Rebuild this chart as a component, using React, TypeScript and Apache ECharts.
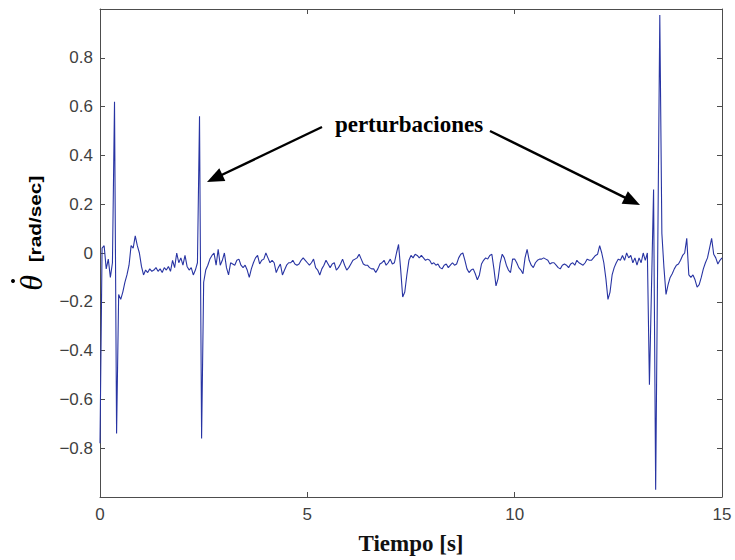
import React, { useEffect, useRef } from "react";
import * as echarts from "echarts";

// Sampling step of the recorded signal (seconds)
const SAMPLE_DT = 0.05;

// Angular velocity samples [rad/sec], one per SAMPLE_DT, t = 0 .. 15 s
const thetaDot: number[] = [
  // 0.00 - 0.95
  -0.78, 0.02, 0.03, -0.065, -0.025, -0.1, -0.04, 0.62, -0.74, -0.17,
  -0.19, -0.16, -0.12, -0.09, -0.05, 0.03, 0.02, 0.07, 0.03, 0.0,
  // 1.00 - 1.95
  -0.055, -0.09, -0.07, -0.08, -0.065, -0.075, -0.07, -0.06, -0.075, -0.065,
  -0.08, -0.06, -0.07, -0.055, -0.075, -0.03, -0.06, 0.0, -0.04, -0.02,
  // 2.00 - 2.95
  -0.05, -0.01, -0.055, -0.07, -0.06, -0.09, -0.07, -0.04, 0.56, -0.76,
  -0.12, -0.07, -0.05, -0.025, -0.01, 0.0, -0.05, 0.015, -0.05, -0.03,
  // 3.00 - 3.95
  0.0, -0.06, -0.09, -0.04, -0.045, -0.05, -0.03, -0.025, -0.05, -0.06,
  -0.05, -0.07, -0.1, -0.065, -0.04, -0.02, -0.01, -0.045, -0.03, -0.025,
  // 4.00 - 4.95
  0.0, -0.02, -0.04, -0.03, -0.04, -0.08, -0.06, -0.045, -0.09, -0.07,
  -0.05, -0.04, -0.04, -0.03, -0.045, -0.05, -0.045, -0.03, -0.02, -0.03,
  // 5.00 - 5.95
  -0.04, -0.05, -0.04, -0.025, -0.06, -0.07, -0.09, -0.065, -0.05, -0.03,
  -0.045, -0.06, -0.045, -0.04, -0.07, -0.06, -0.045, -0.025, -0.05, -0.07,
  // 6.00 - 6.95
  -0.06, -0.045, -0.03, -0.025, -0.02, -0.005, -0.025, -0.045, -0.05, -0.05,
  -0.06, -0.065, -0.065, -0.08, -0.065, -0.045, -0.04, -0.03, -0.05, -0.04,
  // 7.00 - 7.95
  -0.025, -0.045, -0.04, 0.0, 0.035, -0.065, -0.18, -0.16, -0.09, -0.03,
  -0.01, -0.02, -0.005, -0.01, -0.02, -0.01, -0.02, -0.03, -0.025, -0.03,
  // 8.00 - 8.95
  -0.045, -0.04, -0.05, -0.045, -0.06, -0.065, -0.05, -0.045, -0.06, -0.05,
  -0.04, -0.05, -0.045, -0.02, -0.005, 0.0, -0.03, -0.065, -0.08, -0.07,
  // 9.00 - 9.95
  -0.065, -0.085, -0.11, -0.09, -0.045, -0.03, -0.02, -0.025, -0.01, -0.005,
  -0.065, -0.135, -0.105, -0.04, -0.005, -0.02, -0.05, -0.07, -0.08, -0.025,
  // 10.00 - 10.95
  -0.025, -0.04, -0.06, -0.07, -0.085, -0.02, 0.015, -0.03, -0.05, -0.06,
  -0.04, -0.03, -0.025, -0.025, -0.02, -0.025, -0.03, -0.045, -0.04, -0.04,
  // 11.00 - 11.95
  -0.05, -0.06, -0.065, -0.05, -0.045, -0.05, -0.06, -0.045, -0.04, -0.05,
  -0.03, -0.04, -0.045, -0.05, -0.04, -0.025, -0.03, -0.03, -0.02, -0.01,
  // 12.00 - 12.95
  -0.005, 0.03, 0.0, -0.04, -0.105, -0.19, -0.16, -0.09, -0.06, -0.04,
  -0.025, -0.03, -0.01, -0.03, 0.0, -0.02, -0.01, -0.04, -0.02, -0.05,
  // 13.00 - 13.95
  -0.02, -0.04, 0.0, -0.03, 0.0, -0.54, -0.14, 0.26, -0.97, 0.0,
  0.975, 0.08, -0.06, -0.17, -0.13, -0.1, -0.085, -0.065, -0.05, -0.045,
  // 14.00 - 14.95
  -0.03, -0.01, 0.0, 0.06, -0.09, -0.1, -0.09, -0.11, -0.14, -0.13,
  -0.1, -0.065, -0.04, -0.02, 0.02, 0.06, -0.005, -0.02, -0.045, -0.03,
  // 15.00
  -0.02,
];

const xTicks = { min: 0, max: 15, interval: 5 };
const yTicks = { min: -1, max: 1, interval: 0.2 };

const xTitle = "Tiempo [s]";
const yTitleSymbol = "\u03B8";
const yTitleUnit = "[rad/sec]";
const annotationText = "perturbaciones";

function arrow(x1: number, y1: number, x2: number, y2: number, len: number, half: number) {
  const dx = x2 - x1;
  const dy = y2 - y1;
  const d = Math.hypot(dx, dy);
  const ux = dx / d;
  const uy = dy / d;
  const bx = x2 - ux * len;
  const by = y2 - uy * len;
  const px = -uy;
  const py = ux;
  return [
    {
      type: "line",
      shape: { x1, y1, x2: bx + ux * 2, y2: by + uy * 2 },
      style: { stroke: "#000", lineWidth: 2.4 },
      silent: true,
    },
    {
      type: "polygon",
      shape: {
        points: [
          [x2, y2],
          [bx + px * half, by + py * half],
          [bx - px * half, by - py * half],
        ],
      },
      style: { fill: "#000" },
      silent: true,
    },
  ];
}

export default function App() {
  const ref = useRef<HTMLDivElement>(null);

  useEffect(() => {
    if (!ref.current) return;
    const chart = echarts.init(ref.current, undefined, { renderer: "svg" });

    const data = thetaDot.map((v, i) => [Number((i * SAMPLE_DT).toFixed(2)), v]);

    const axisColor = "#4d4d4d";
    const labelFont = "Liberation Sans, Arial, sans-serif";
    const fmtY = (v: number) => {
      if (Math.abs(v) < 1e-9) return "0";
      const s = v.toFixed(1);
      return s.replace("-", "\u2212");
    };

    const option: any = {
      animation: false,
      backgroundColor: "#ffffff",
      grid: { left: 100, right: 13, top: 9, bottom: 61, containLabel: false },
      xAxis: [
        {
          type: "value",
          position: "bottom",
          ...xTicks,
          axisLine: { show: true, onZero: false, lineStyle: { color: axisColor, width: 1 } },
          axisTick: { show: true, inside: true, length: 5, lineStyle: { color: axisColor } },
          axisLabel: { color: "#3f3f3f", fontSize: 17, fontFamily: labelFont, margin: 9 },
          splitLine: { show: false },
          name: xTitle,
          nameLocation: "middle",
          nameGap: 35,
          nameTextStyle: {
            fontFamily: "Liberation Serif, Times New Roman, serif",
            fontWeight: "bold",
            fontSize: 23,
            color: "#111",
          },
        },
        {
          type: "value",
          position: "top",
          ...xTicks,
          axisLine: { show: true, onZero: false, lineStyle: { color: axisColor, width: 1 } },
          axisTick: { show: true, inside: true, length: 5, lineStyle: { color: axisColor } },
          axisLabel: { show: false },
          splitLine: { show: false },
        },
      ],
      yAxis: [
        {
          type: "value",
          position: "left",
          ...yTicks,
          axisLine: { show: true, onZero: false, lineStyle: { color: axisColor, width: 1 } },
          axisTick: { show: true, inside: true, length: 5, lineStyle: { color: axisColor } },
          axisLabel: {
            color: "#3f3f3f",
            fontSize: 17,
            fontFamily: labelFont,
            margin: 7,
            showMinLabel: false,
            showMaxLabel: false,
            formatter: fmtY,
          },
          splitLine: { show: false },
        },
        {
          type: "value",
          position: "right",
          ...yTicks,
          axisLine: { show: true, onZero: false, lineStyle: { color: axisColor, width: 1 } },
          axisTick: { show: true, inside: true, length: 5, lineStyle: { color: axisColor } },
          axisLabel: { show: false },
          splitLine: { show: false },
        },
      ],
      series: [
        {
          type: "line",
          xAxisIndex: 0,
          yAxisIndex: 0,
          data,
          showSymbol: false,
          symbol: "none",
          lineStyle: { color: "#2834a3", width: 1.1 },
          silent: true,
        },
      ],
      graphic: [
        ...arrow(322, 127, 207, 182, 17, 7),
        ...arrow(490, 131, 640, 205, 17, 7),
        {
          type: "text",
          x: 409,
          y: 124,
          style: {
            text: annotationText,
            fill: "#000",
            font: "bold 23px 'Liberation Serif', 'Times New Roman', serif",
            textAlign: "center",
            textVerticalAlign: "middle",
          },
          silent: true,
        },
        {
          type: "text",
          x: 35,
          y: 219,
          rotation: Math.PI / 2,
          scaleX: 1.3,
          style: {
            text: yTitleUnit,
            fill: "#000",
            font: "bold 16px 'Liberation Sans', Arial, sans-serif",
            textAlign: "center",
            textVerticalAlign: "middle",
          },
          silent: true,
        },
        {
          type: "text",
          x: 31,
          y: 283,
          rotation: Math.PI / 2,
          style: {
            text: yTitleSymbol,
            fill: "#000",
            font: "italic 32px 'Liberation Serif', 'Times New Roman', serif",
            textAlign: "center",
            textVerticalAlign: "middle",
          },
          silent: true,
        },
        {
          type: "circle",
          shape: { cx: 13, cy: 281, r: 2 },
          style: { fill: "#000" },
          silent: true,
        },
      ],
    };

    chart.setOption(option);
    return () => {
      chart.dispose();
    };
  }, []);

  return (
    <div
      ref={ref}
      style={{ position: "absolute", left: 0, top: 0, width: 735, height: 560, background: "#fff" }}
    />
  );
}
